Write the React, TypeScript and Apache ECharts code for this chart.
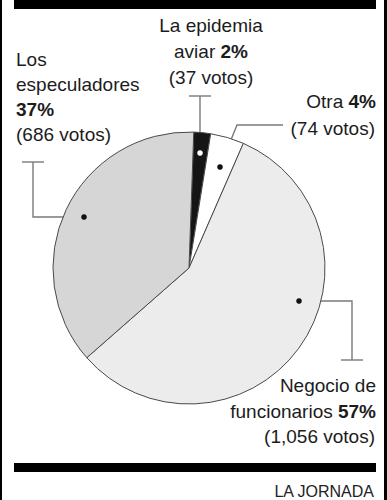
import React, { useEffect, useRef } from "react";
import * as echarts from "echarts";

const categories = ["La epidemia aviar", "Otra", "Negocio de funcionarios", "Los especuladores"];
const votes = [37, 74, 1056, 686];
const percents = ["2%", "4%", "57%", "37%"];
const sliceColors = ["#151515", "#ffffff", "#ececec", "#d6d6d6"];
const credit = "LA JORNADA";

const FONT = '"Liberation Sans", Arial, Helvetica, sans-serif';
const FS = 19;
const TXT = "#1c1c1c";
const LEAD = "#7a7a7a";

function txt(x: number, baseline: number, text: string, align: string, rich = true) {
  return {
    type: "text",
    x,
    y: baseline - 6.8,
    silent: true,
    style: {
      text,
      fill: TXT,
      font: `${FS}px ${FONT}`,
      fontSize: FS,
      fontFamily: FONT,
      align,
      verticalAlign: "middle",
      rich: rich
        ? {
            b: { fontWeight: "bold", fontSize: FS, fontFamily: FONT, fill: TXT },
          }
        : undefined,
    },
  };
}

function line(x1: number, y1: number, x2: number, y2: number) {
  return {
    type: "line",
    silent: true,
    shape: { x1, y1, x2, y2 },
    style: { stroke: LEAD, lineWidth: 1.4 },
  };
}

function poly(points: number[][]) {
  return {
    type: "polyline",
    silent: true,
    shape: { points },
    style: { stroke: LEAD, lineWidth: 1.4, fill: null },
  };
}

function dot(x: number, y: number, fill: string) {
  return {
    type: "circle",
    silent: true,
    shape: { cx: x, cy: y, r: 2.8 },
    style: { fill },
    z: 10,
  };
}

export default function App() {
  const ref = useRef<HTMLDivElement>(null);
  useEffect(() => {
    if (!ref.current) return;
    const chart = echarts.init(ref.current, null, { renderer: "svg" });
    const data = categories.map((name, i) => ({
      name,
      value: votes[i],
      itemStyle: { color: sliceColors[i] },
    }));
    const fmt = (n: number) => n.toLocaleString("en-US");
    chart.setOption({
      animation: false,
      backgroundColor: "#ffffff",
      series: [
        {
          type: "pie",
          center: [189, 268],
          radius: 136,
          startAngle: 88,
          clockwise: true,
          silent: true,
          label: { show: false },
          labelLine: { show: false },
          itemStyle: { borderColor: "#4a4a4a", borderWidth: 1 },
          emphasis: { disabled: true },
          data,
        },
      ],
      graphic: [
        // frame
        { type: "rect", silent: true, shape: { x: 0, y: 0, width: 2, height: 500 }, style: { fill: "#000" } },
        { type: "rect", silent: true, shape: { x: 384, y: 0, width: 3, height: 500 }, style: { fill: "#000" } },
        { type: "rect", silent: true, shape: { x: 14, y: 0, width: 362, height: 9 }, style: { fill: "#000" } },
        { type: "rect", silent: true, shape: { x: 14, y: 463, width: 362, height: 9 }, style: { fill: "#000" } },
        {
          type: "text",
          x: 374,
          y: 491,
          silent: true,
          style: {
            text: credit,
            fill: "#222",
            font: `16px ${FONT}`,
            align: "right",
            verticalAlign: "middle",
          },
        },
        // leader lines
        line(200, 153, 200, 96),
        line(189, 96, 211, 96),
        poly([[220, 167], [237, 125], [283, 125]]),
        poly([[84, 217], [33, 217], [33, 162]]),
        line(22, 162, 44, 162),
        poly([[299, 301], [352, 301], [352, 360]]),
        line(341, 360, 363, 360),
        dot(200, 153, "#ffffff"),
        dot(220, 167, "#111"),
        dot(84, 217, "#111"),
        dot(299, 301, "#111"),
        // labels
        txt(211, 32.5, "La epidemia", "center"),
        txt(211, 58.5, `aviar {b|${percents[0]}}`, "center"),
        txt(211, 84.5, `(${fmt(votes[0])} votos)`, "center"),
        txt(16, 66, "Los", "left"),
        txt(16, 91, "especuladores", "left"),
        txt(16, 116, `{b|${percents[3]}}`, "left"),
        txt(16, 141, `(${fmt(votes[3])} votos)`, "left"),
        txt(376, 108, `Otra {b|${percents[1]}}`, "right"),
        txt(375, 135, `(${fmt(votes[1])} votos)`, "right"),
        txt(376, 392, "Negocio de", "right"),
        txt(376, 418, `funcionarios {b|${percents[2]}}`, "right"),
        txt(375, 443, `(${fmt(votes[2])} votos)`, "right"),
      ],
    });
    return () => chart.dispose();
  }, []);
  return (
    <div
      ref={ref}
      style={{ position: "absolute", left: 0, top: 0, width: 387, height: 500, background: "#fff" }}
    />
  );
}
